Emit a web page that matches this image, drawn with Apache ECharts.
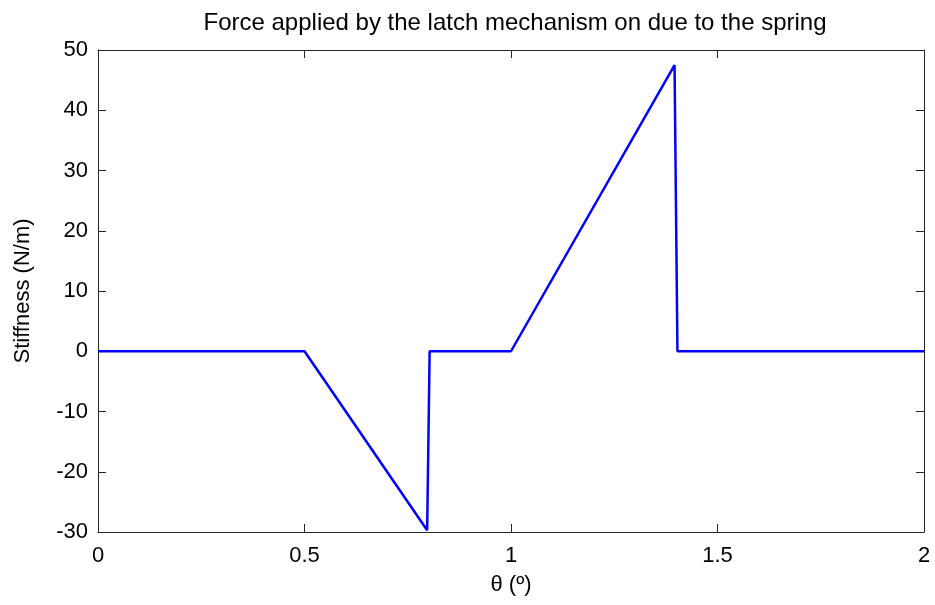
<!DOCTYPE html>
<html>
<head>
<meta charset="utf-8">
<script src="https://cdn.jsdelivr.net/npm/echarts@6/dist/echarts.min.js"></script>
<style>
  html, body { margin: 0; padding: 0; background: #fff; }
  #chart { width: 935px; height: 605px; }
</style>
</head>
<body>
<div id="chart"></div>
<script>
// Latch force vs. rotation angle
const thetaDeg = [0, 0.5, 0.797, 0.803, 1.0, 1.396, 1.403, 2.0];
const stiffness = [0, 0, -29.7, 0, 0, 47.5, 0, 0];
const xTicks = [0, 0.5, 1, 1.5, 2];
const yTicks = [-30, -20, -10, 0, 10, 20, 30, 40, 50];

const FONT = 'Liberation Sans, Arial, sans-serif';
const AXIS_COLOR = '#262626';

const points = thetaDeg.map((t, i) => [t, stiffness[i]]);

const chart = echarts.init(document.getElementById('chart'), null, { renderer: 'canvas' });

const baseAxis = {
  axisLine: { show: true, onZero: false, lineStyle: { color: AXIS_COLOR, width: 1 } },
  axisTick: { show: true, inside: true, length: 8, lineStyle: { color: AXIS_COLOR, width: 1 } },
  splitLine: { show: false },
};

chart.setOption({
  animation: false,
  backgroundColor: '#ffffff',
  title: {
    text: 'Force applied by the latch mechanism on due to the spring',
    left: 510,
    textAlign: 'center',
    top: 6,
    textStyle: { fontFamily: FONT, fontSize: 24, fontWeight: 'normal', color: '#000' },
  },
  grid: { left: 98, right: 11, top: 50, bottom: 73, containLabel: false },
  xAxis: [
    Object.assign({}, baseAxis, {
      type: 'value', position: 'bottom',
      min: xTicks[0], max: xTicks[xTicks.length - 1], interval: 0.5,
      name: 'θ (º)', nameLocation: 'middle', nameGap: 42,
      nameTextStyle: { fontFamily: FONT, fontSize: 22, color: '#000' },
      axisLabel: { fontFamily: FONT, fontSize: 22, color: '#000', margin: 13,
        formatter: v => String(+v.toFixed(2)) },
    }),
    Object.assign({}, baseAxis, {
      type: 'value', position: 'top',
      min: xTicks[0], max: xTicks[xTicks.length - 1], interval: 0.5,
      axisLabel: { show: false },
    }),
  ],
  yAxis: [
    Object.assign({}, baseAxis, {
      type: 'value', position: 'left',
      min: yTicks[0], max: yTicks[yTicks.length - 1], interval: 10,
      name: 'Stiffness (N/m)', nameLocation: 'middle', nameGap: 64, nameRotate: 90,
      nameTextStyle: { fontFamily: FONT, fontSize: 22, color: '#000' },
      axisLabel: { fontFamily: FONT, fontSize: 22, color: '#000', margin: 10 },
    }),
    Object.assign({}, baseAxis, {
      type: 'value', position: 'right',
      min: yTicks[0], max: yTicks[yTicks.length - 1], interval: 10,
      axisLabel: { show: false },
    }),
  ],
  series: [{
    type: 'line',
    data: points,
    xAxisIndex: 0,
    yAxisIndex: 0,
    showSymbol: false,
    symbol: 'none',
    lineStyle: { color: '#0000ff', width: 2.5 },
  }],
});
</script>
</body>
</html>
